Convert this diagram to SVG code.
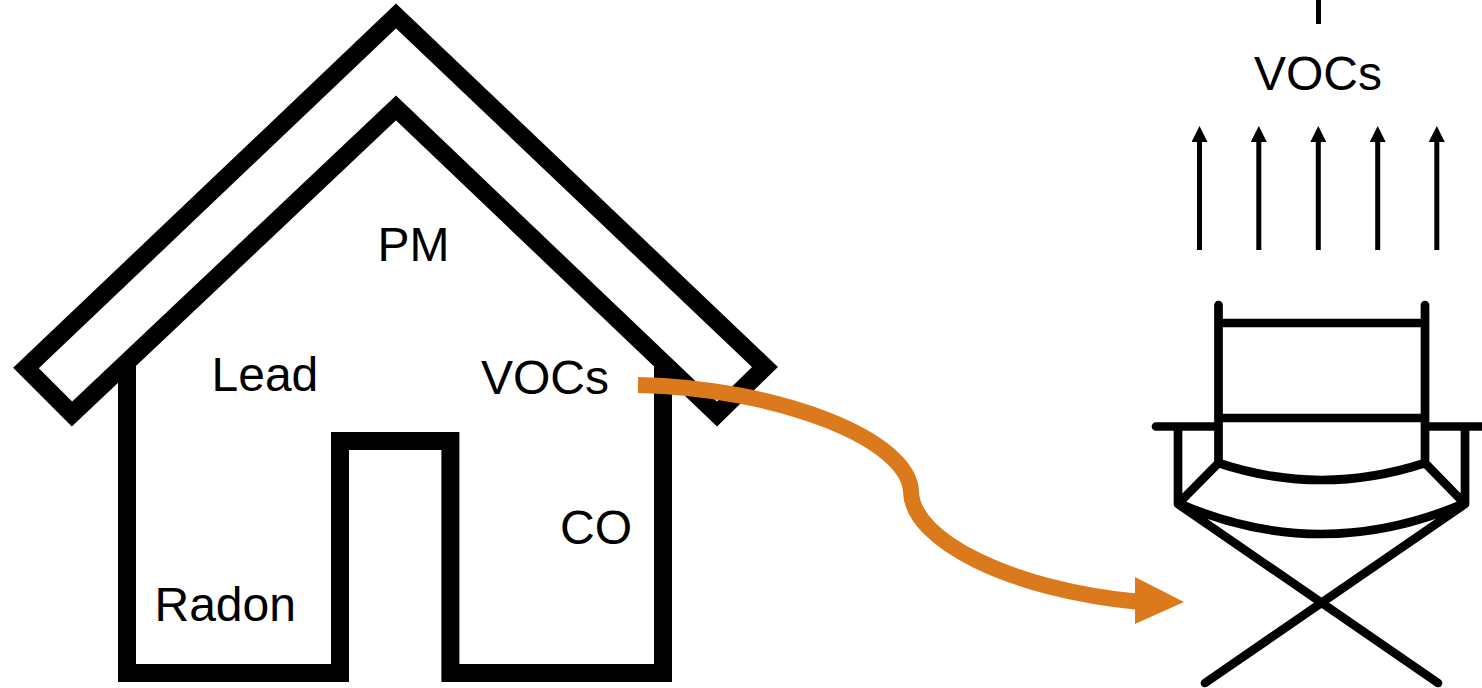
<svg xmlns="http://www.w3.org/2000/svg" width="1482" height="688" viewBox="0 0 1482 688">
<style>
.h{fill:none;stroke:#000;stroke-width:18;stroke-linejoin:miter;stroke-miterlimit:10}
.c{fill:none;stroke:#000;stroke-width:8.7;stroke-linecap:round;stroke-linejoin:round}
.a{stroke:#000;stroke-width:5;fill:none}
.t{font-family:"Liberation Sans",Arial,sans-serif;font-size:48px;fill:#000}
</style>
<defs>
<marker id="ah" markerUnits="userSpaceOnUse" markerWidth="16" markerHeight="16" refX="1" refY="8" orient="auto"><path d="M0 0L16 8L0 16Z" fill="#000"/></marker>
</defs>
<rect width="1482" height="688" fill="#fff"/>
<g id="house">
<path class="h" d="M26 368L72 414L396 108L717 414L765 367L396 16Z"/>
<path class="h" d="M127 365V673H340V441H450.400V673H663V365"/>
</g>
<g id="chair">
<path class="c" d="M1218.500 305V463M1425 305V463M1218.500 323H1425M1218.500 418H1425M1156 426.500H1218.500M1425 426.500H1490M1178 426.500V504M1465 426.500V504M1218.500 463L1178 504M1425 463L1465 504M1218.500 463Q1321 497 1425 463M1178 503Q1321 565 1465 503M1178 504L1438 683M1465 504L1205 683"/>
</g>
<g id="labels">
<text class="t" x="377.500" y="261">PM</text>
<text class="t" x="211.500" y="391">Lead</text>
<text class="t" x="481" y="394">VOCs</text>
<text class="t" x="560" y="544">CO</text>
<text class="t" x="154.500" y="621">Radon</text>
<text class="t" x="1254" y="90">VOCs</text>
</g>
<g id="connectors">
<path class="a" d="M1318.500 0V24"/>
<path class="a" marker-end="url(#ah)" d="M1199.500 250V141"/>
<path class="a" marker-end="url(#ah)" d="M1258.800 250V141"/>
<path class="a" marker-end="url(#ah)" d="M1318.300 250V141"/>
<path class="a" marker-end="url(#ah)" d="M1377.700 250V141"/>
<path class="a" marker-end="url(#ah)" d="M1436.800 250V141"/>
<path d="M638 385C780 388 910 440 911 492C912 540 1010 590 1140 602" fill="none" stroke="#DB7A1C" stroke-width="16"/>
<path d="M1135 577L1184 602L1135 624Z" fill="#DB7A1C"/>
</g>
</svg>
